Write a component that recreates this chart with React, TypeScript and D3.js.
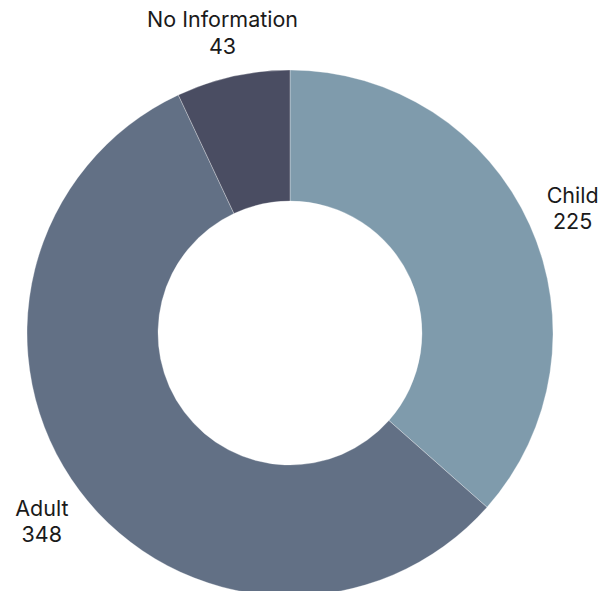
import React from "react";
import * as d3 from "d3";

const categories = ["Child", "Adult", "No Information"];
const values = [225, 348, 43];
const colors = ["#7f9bac", "#627085", "#4a4d62"];

export default function App() {
  const width = 610;
  const height = 591;
  const cx = 290;
  const cy = 333;
  const outerR = 263;
  const innerR = 132;
  const data = categories.map((c, i) => ({ c, v: values[i], color: colors[i] }));
  const pie = d3.pie<any>().sort(null).value((d: any) => d.v);
  const arcs = pie(data);
  const arc = d3.arc<any>().innerRadius(innerR).outerRadius(outerR);
  const labelArc = d3.arc<any>().innerRadius(310).outerRadius(310);
  return (
    <svg width={width} height={height} style={{ position: "absolute", left: 0, top: 0 }}>
      <g transform={`translate(${cx},${cy})`}>
        {arcs.map((a, i) => (
          <path key={i} d={arc(a) as string} fill={a.data.color} stroke="#ffffff" strokeWidth={0.6} strokeOpacity={0.5} />
        ))}
        {arcs.map((a, i) => {
          const [x, y] = labelArc.centroid(a);
          return (
            <text key={"l" + i} x={x} y={y} textAnchor="middle" fontFamily="Inter, sans-serif" fontSize={21.5} fill="#1a1a1a">
              <tspan x={x} dy={-3}>{a.data.c}</tspan>
              <tspan x={x} dy={26.5}>{a.data.v}</tspan>
            </text>
          );
        })}
      </g>
    </svg>
  );
}
